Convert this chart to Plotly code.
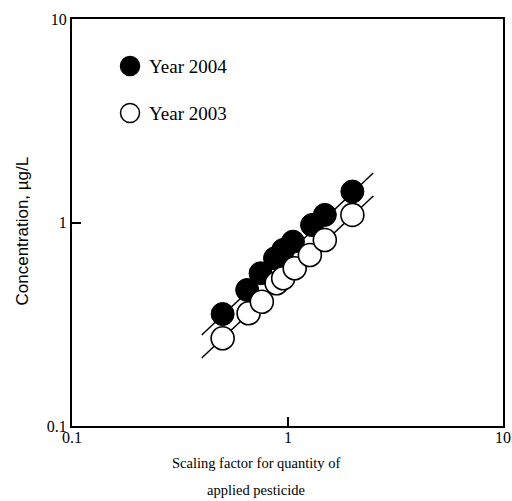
import math
import plotly.graph_objects as go

# Data
x2004 = [0.50, 0.65, 0.75, 0.875, 0.955, 1.06, 1.30, 1.49, 2.0]
y2004 = [0.355, 0.466, 0.563, 0.667, 0.733, 0.805, 0.972, 1.09, 1.42]
x2003 = [0.50, 0.66, 0.76, 0.89, 0.955, 1.08, 1.27, 1.49, 2.0]
y2003 = [0.27, 0.358, 0.408, 0.503, 0.532, 0.596, 0.692, 0.82, 1.09]
fit_x = [0.4, 2.5]
fit_2004 = [0.28, 1.75]
fit_2003 = [0.216, 1.35]
tick_vals = [0.1, 1, 10]
tick_text = ["0.1", "1", "10"]
legend_labels = ["Year 2004", "Year 2003"]
x_title_lines = ["Scaling factor for quantity of", "applied pesticide"]

serif = "Liberation Serif, Times New Roman, serif"
sans = "Liberation Sans, Arial, sans-serif"

fig = go.Figure()
fig.add_trace(go.Scatter(x=fit_x, y=fit_2004, mode="lines",
                         line=dict(color="black", width=1.5), showlegend=False))
fig.add_trace(go.Scatter(x=fit_x, y=fit_2003, mode="lines",
                         line=dict(color="black", width=1.5), showlegend=False))
fig.add_trace(go.Scatter(x=x2004, y=y2004, mode="markers",
                         marker=dict(size=23, color="black", line=dict(color="black", width=1)),
                         showlegend=False))
fig.add_trace(go.Scatter(x=x2003, y=y2003, mode="markers",
                         marker=dict(size=23, color="white", line=dict(color="black", width=1.6)),
                         showlegend=False))

axis_common = dict(
    type="log", showgrid=False, zeroline=False, automargin=False,
    showline=True, linecolor="black", linewidth=2, mirror=True,
    ticks="inside", ticklen=9, tickwidth=1.5, tickcolor="black",
    tickvals=tick_vals, ticktext=tick_text,
    tickfont=dict(family=serif, size=16, color="black"),
)
fig.update_xaxes(range=[-1, 1], showticklabels=False, **axis_common)
fig.update_yaxes(range=[-1, 1], **axis_common)

# x tick labels placed close under the axis (log axis: annotation x in log10 units)
for tv, tt in zip(tick_vals, tick_text):
    fig.add_annotation(text=tt, xref="x", yref="paper", x=math.log10(tv), y=-0.002,
                       xanchor="center", yanchor="top", showarrow=False,
                       font=dict(family=serif, size=16, color="black"))

# Legend drawn inside plot
leg_y = [0.8845, 0.769]
leg_fill = ["black", "white"]
for lab, yy, fc in zip(legend_labels, leg_y, leg_fill):
    fig.add_shape(type="circle", xref="paper", yref="paper",
                  xsizemode="pixel", ysizemode="pixel",
                  xanchor=0.1346, yanchor=yy, x0=-9.5, x1=9.5, y0=-9.5, y1=9.5,
                  fillcolor=fc, line=dict(color="black", width=1.5))
    fig.add_annotation(text=lab, xref="paper", yref="paper", x=0.174, y=yy,
                       xanchor="left", yanchor="middle", showarrow=False,
                       font=dict(family=serif, size=19, color="black"))

for line_txt, yy in zip(x_title_lines, [-0.091, -0.157]):
    fig.add_annotation(text=line_txt, xref="paper", yref="paper", x=0.427, y=yy,
                       xanchor="center", yanchor="middle", showarrow=False,
                       font=dict(family=serif, size=14.5, color="black"))
fig.add_annotation(text="Concentration, µg/L", textangle=-90,
                   xref="paper", yref="paper", x=-0.115, y=0.479,
                   xanchor="center", yanchor="middle", showarrow=False,
                   font=dict(family=sans, size=17, color="black"))

fig.update_layout(
    width=512, height=501,
    margin=dict(l=72, r=9, t=19, b=75),
    paper_bgcolor="white", plot_bgcolor="white",
    showlegend=False,
)
fig.write_html("out.html")
